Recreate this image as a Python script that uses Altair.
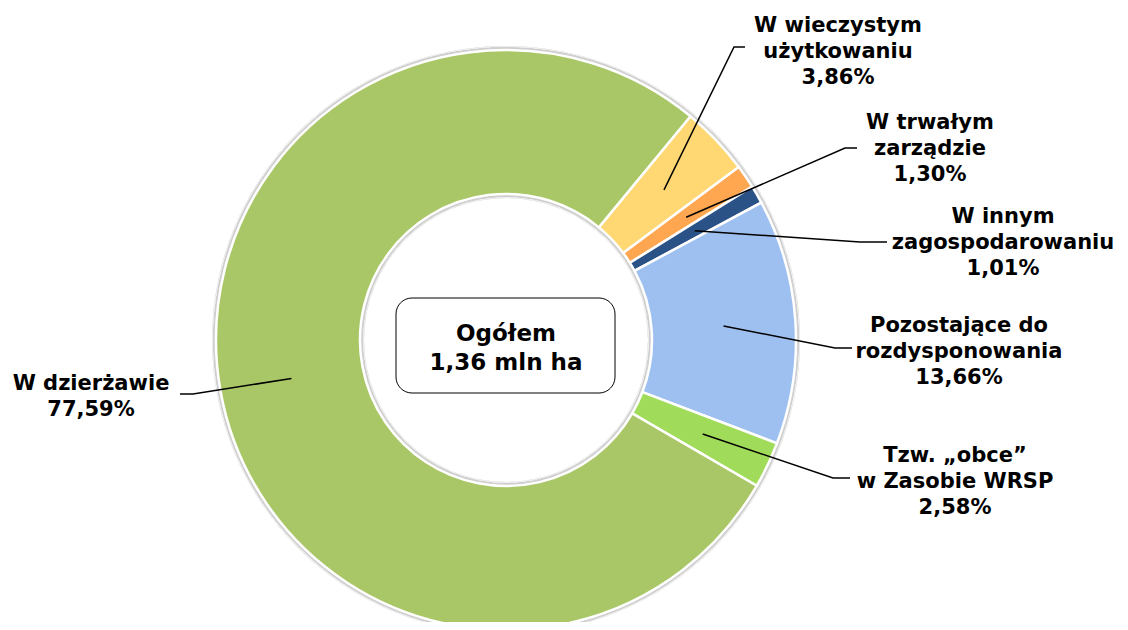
import math
import altair as alt
import pandas as pd

# ---- data ----
categories = [
    "W wieczystym użytkowaniu",
    "W trwałym zarządzie",
    "W innym zagospodarowaniu",
    "Pozostające do rozdysponowania",
    "Tzw. „obce” w Zasobie WRSP",
    "W dzierżawie",
]
shares = [3.86, 1.30, 1.01, 13.66, 2.58, 77.59]
share_labels = ["3,86%", "1,30%", "1,01%", "13,66%", "2,58%", "77,59%"]
label_lines = [
    ["W wieczystym", "użytkowaniu"],
    ["W trwałym", "zarządzie"],
    ["W innym", "zagospodarowaniu"],
    ["Pozostające do", "rozdysponowania"],
    ["Tzw. „obce”", "w Zasobie WRSP"],
    ["W dzierżawie"],
]
colors = ["#FFD773", "#FFA650", "#2B5286", "#9DC0F0", "#A0DC5A", "#A9C766"]
center_lines = ["Ogółem", "1,36 mln ha"]

# ---- layout ----
W, H = 1112, 614
CX, CY = 498, 332
R_OUT, R_IN = 290, 146
R_MID = (R_OUT + R_IN) / 2
START_DEG = 39.5
FONT = "DejaVu Sans"
# elbow x, end x, line y, text centre x, first baseline y
label_layout = [
    (726, 737, 39, 830, 24),
    (837, 849, 140, 922, 121),
    (852, 879, 234, 995, 215),
    (827, 844, 340, 951, 324),
    (825, 842, 470, 947, 454),
    (185, 172, 386, 83, 382),
]
LINE_H = 25.8

slices = pd.DataFrame({
    "cat": categories,
    "val": shares,
    "idx": list(range(len(categories))),
})

# leader lines: start at slice mid-angle on the ring's middle radius
total = sum(shares)
rows = []
cum = 0.0
texts = []
for i, v in enumerate(shares):
    mid = math.radians(START_DEG + (cum + v / 2) / total * 360)
    cum += v
    sx = CX + R_MID * math.sin(mid)
    sy = CY - R_MID * math.cos(mid)
    ex, endx, ly, tx, ty = label_layout[i]
    rows += [
        {"lid": i, "p": 0, "x": sx, "y": sy},
        {"lid": i, "p": 1, "x": ex, "y": ly},
        {"lid": i, "p": 2, "x": endx, "y": ly},
    ]
    texts.append({"x": tx, "y": ty, "t": label_lines[i] + [share_labels[i]]})
leaders = pd.DataFrame(rows)
text_df = pd.DataFrame(texts)

xs = alt.Scale(domain=[0, W], nice=False, zero=False)
ys = alt.Scale(domain=[0, H], nice=False, zero=False, reverse=True)

start = math.radians(START_DEG)
shadow2 = alt.Chart(slices).mark_arc(
    theta=0, theta2=2 * math.pi, radius=R_OUT + 4, radius2=R_IN - 4, color="#ececec"
).encode(x=alt.value(CX), y=alt.value(CY))
shadow = alt.Chart(slices).mark_arc(
    theta=0, theta2=2 * math.pi, radius=R_OUT + 2.5, radius2=R_IN - 2.5, color="#cfcfcf"
).encode(x=alt.value(CX), y=alt.value(CY))

donut = alt.Chart(slices).mark_arc(
    radius=R_OUT, radius2=R_IN, stroke="white", strokeWidth=2.5
).encode(
    theta=alt.Theta("val:Q", stack=True,
                    scale=alt.Scale(range=[start, start + 2 * math.pi])),
    order=alt.Order("idx:Q", sort="ascending"),
    color=alt.Color("cat:N", scale=alt.Scale(domain=categories, range=colors), legend=None),
    x=alt.value(CX),
    y=alt.value(CY),
)

lines = alt.Chart(leaders).mark_line(color="black", strokeWidth=1.5).encode(
    x=alt.X("x:Q", scale=xs, axis=None),
    y=alt.Y("y:Q", scale=ys, axis=None),
    detail="lid:N",
    order="p:Q",
)

labels = alt.Chart(text_df).mark_text(
    font=FONT, fontSize=21, fontWeight="bold", align="center",
    baseline="alphabetic", lineHeight=LINE_H, color="black",
).encode(
    x=alt.X("x:Q", scale=xs, axis=None),
    y=alt.Y("y:Q", scale=ys, axis=None),
    text="t",
)

box_df = pd.DataFrame({"x": [388], "x2": [607], "y": [290], "y2": [385]})
box = alt.Chart(box_df).mark_rect(
    fill="white", stroke="black", strokeWidth=1, cornerRadius=16
).encode(
    x=alt.X("x:Q", scale=xs, axis=None), x2="x2",
    y=alt.Y("y:Q", scale=ys, axis=None), y2="y2",
)

center_df = pd.DataFrame({"x": [CX], "y": [332.7], "t": [center_lines]})
center_text = alt.Chart(center_df).mark_text(
    font=FONT, fontSize=23, fontWeight="bold", align="center",
    baseline="alphabetic", lineHeight=29.5, color="black",
).encode(
    x=alt.X("x:Q", scale=xs, axis=None),
    y=alt.Y("y:Q", scale=ys, axis=None),
    text="t",
)

chart = alt.layer(shadow2, shadow, donut, lines, labels, box, center_text).properties(
    width=W, height=H, padding=0,
    autosize=alt.AutoSizeParams(type="none"),
).configure_view(stroke=None).resolve_scale(theta="independent")

chart.save("out.html", embed_options={"renderer": "svg", "actions": False})
